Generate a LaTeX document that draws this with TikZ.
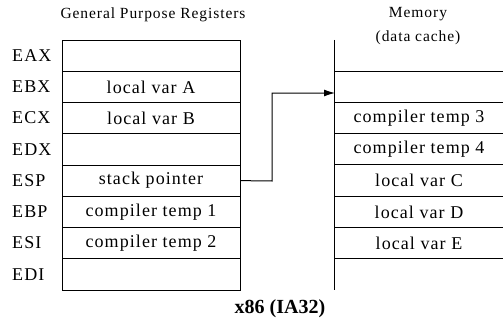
\documentclass[tikz,border=0pt]{standalone}
\usepackage{fontspec}
\setmainfont{Liberation Serif}
\newfontfamily\spcd[LetterSpace=6]{Liberation Serif}
\usetikzlibrary{arrows.meta}
\begin{document}
\begin{tikzpicture}[x=1pt,y=-1pt,
  reg/.style={draw,line width=1pt,minimum width=178pt,minimum height=31.25pt,inner sep=0pt,font=\spcd\fontsize{18}{18}\selectfont},
  mem/.style={minimum width=168pt,minimum height=31.25pt,inner sep=0pt,font=\spcd\fontsize{18}{18}\selectfont},
  lbl/.style={anchor=west,inner sep=0pt,font=\spcd\fontsize{18}{18}\selectfont},
  ttl/.style={inner sep=0pt,font=\spcd\fontsize{15.5}{15.5}\selectfont},
  ln/.style={line width=1pt}]
\useasboundingbox (0,0) rectangle (503,324);
\foreach \n/\t [count=\i from 0] in {eax/,ebx/local var A,ecx/local var B,edx/,esp/stack pointer,ebp/compiler temp 1,esi/compiler temp 2,edi/}{
  \node[reg] (\n) at (151,{40+31.25*(\i+0.5)}) {\t};
}
\foreach \n/\t [count=\i from 0] in {EAX,EBX,ECX,EDX,ESP,EBP,ESI,EDI}{
  \node[lbl] (l\i) at (12,{40+31.25*(\i+0.5)}) {\t};
}
\foreach \n/\t [count=\i from 0] in {m0/,m1/,m2/compiler temp 3,m3/compiler temp 4,m4/local var C,m5/local var D,m6/local var E,m7/}{
  \node[mem] (\n) at (419,{40+31.25*(\i+0.5)}) {\t};
}
\draw[ln] (m0.north west) -- (m7.south west);
\foreach \i in {1,...,7}{
  \draw[ln] (m\i.north west) -- (m\i.north east);
}
\node[ttl] (gpr) at (153,15) {General Purpose Registers};
\node[ttl] (memt) at (418,14) {Memory};
\node[ttl] (dc) at (418,38) {(data cache)};
\node[inner sep=0pt,font=\bfseries\fontsize{20}{20}\selectfont] (x86) at (280,309) {x86 (IA32)};
\coordinate (tip) at (335,93);
\coordinate (bend) at (272,181);
\draw[ln,-{Latex[length=11pt,width=7pt]}] (esp.east) -- (bend) |- (tip);
\end{tikzpicture}
\end{document}
